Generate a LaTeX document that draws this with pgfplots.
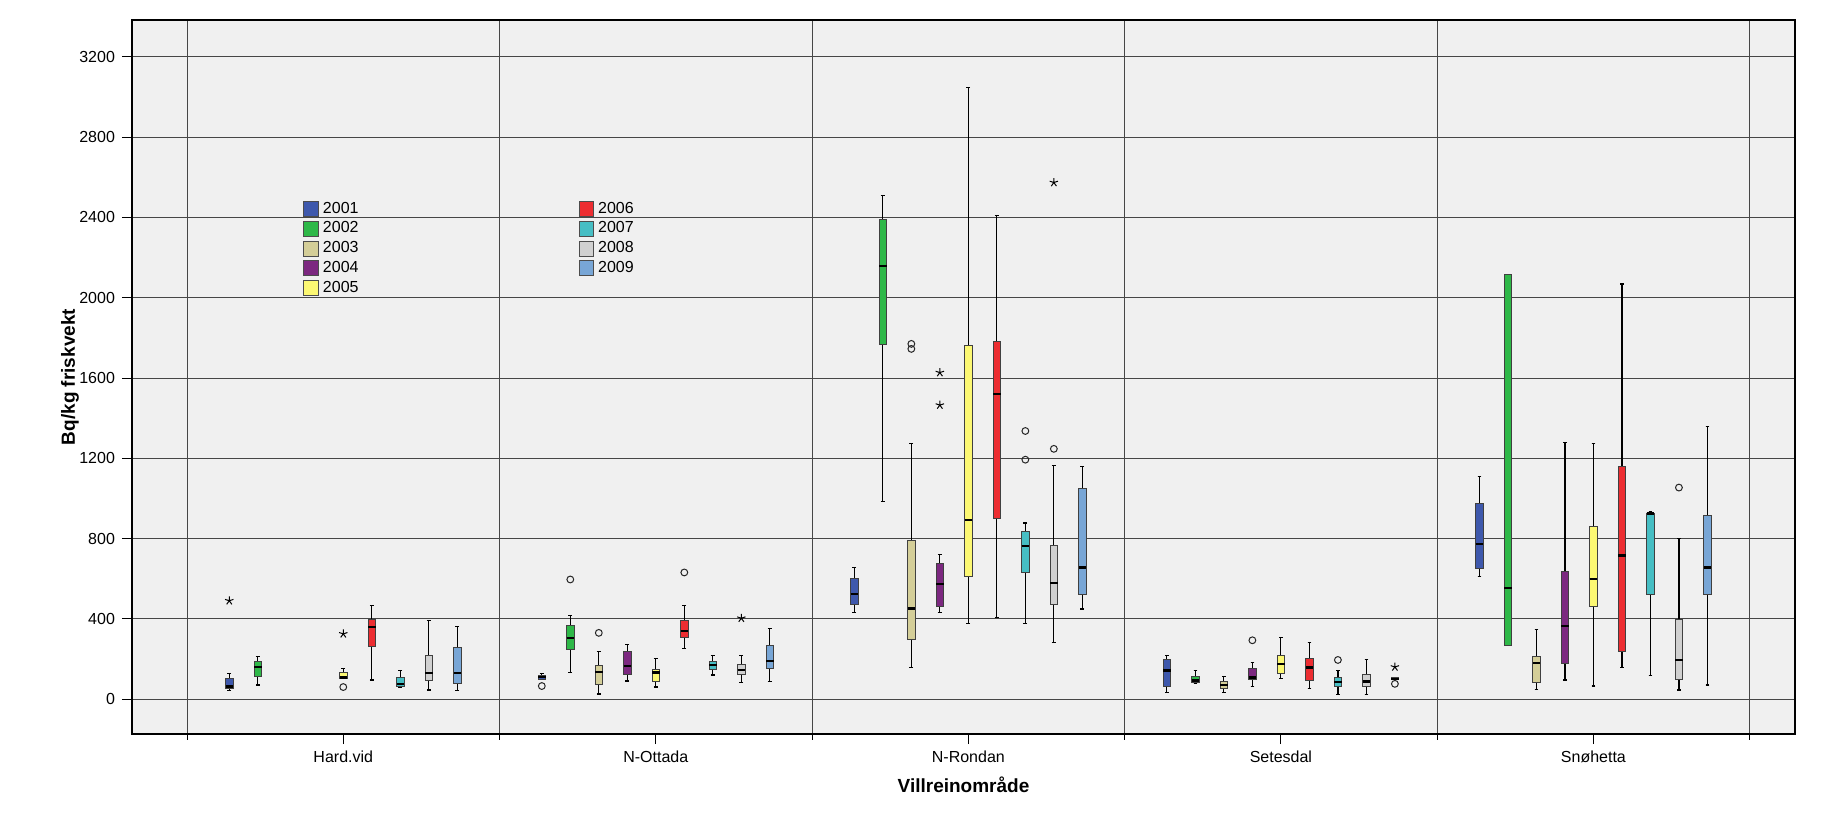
\documentclass[border=0pt]{standalone}
\usepackage{fontspec}
\setmainfont{Liberation Sans}
\usepackage{pgfplots}
\pgfplotsset{compat=1.18}
\usepgfplotslibrary{statistics}

\definecolor{c2001}{RGB}{62,88,172}
\definecolor{c2002}{RGB}{46,184,72}
\definecolor{c2003}{RGB}{212,206,152}
\definecolor{c2004}{RGB}{124,40,128}
\definecolor{c2005}{RGB}{252,248,115}
\definecolor{c2006}{RGB}{236,45,49}
\definecolor{c2007}{RGB}{70,190,196}
\definecolor{c2008}{RGB}{208,208,208}
\definecolor{c2009}{RGB}{120,166,214}
\definecolor{bg}{RGB}{240,240,240}
\definecolor{gridc}{RGB}{70,70,70}

% one box: fill colour as argument
\pgfplotsset{
  bx/.style={forget plot, draw=black!75, line width=0.5pt, fill=#1},
}

\begin{document}
\begin{tikzpicture}
\begin{axis}[
  scale only axis, width=831.5pt, height=357pt,
  xmin=0.324, xmax=5.645, ymin=-174, ymax=3384,
  axis background/.style={fill=bg},
  axis line style={black, line width=0.6pt},
  xtick={1,2,3,4,5},
  xticklabels={Hard.vid,N-Ottada,N-Rondan,Setesdal,Snøhetta},
  minor xtick={0.5,1.5,2.5,3.5,4.5,5.5},
  ytick={0,400,800,1200,1600,2000,2400,2800,3200},
  ymajorgrids, xminorgrids,
  major grid style={gridc, line width=0.5pt},
  minor grid style={gridc, line width=0.5pt},
  tick pos=left, tick align=outside,
  major tick length=5pt,
  tick style={black, line width=0.5pt},
  tick label style={font=\fontsize{8}{9}\selectfont},
  /pgf/number format/1000 sep={},
  /pgf/number format/assume math mode=true,
  xlabel={Villreinområde},
  xlabel style={font=\bfseries\fontsize{9.5}{11}\selectfont,
    at={(axis description cs:0.5,-0.0714)}, anchor=center},
  ylabel={Bq/kg friskvekt},
  ylabel style={font=\bfseries\fontsize{9.5}{11}\selectfont,
    at={(axis description cs:-0.0373,0.5)}, anchor=center},
  boxplot/draw direction=y,
  boxplot/box extend=0.024,
  boxplot/whisker extend=0.012,
  boxplot/every median/.style={black, line width=1.2pt},
  boxplot/every whisker/.style={black, line width=0.6pt},
  legend columns=2,
  legend image code/.code={\draw[#1] (0pt,-3.7pt) rectangle (7.4pt,3.7pt);},
  legend style={at={(axis description cs:0.0992,0.757)}, anchor=north west,
    draw=none, fill=none, font=\fontsize{8}{9}\selectfont,
    row sep=-1.2pt,
    /tikz/column 2/.style={column sep=108pt}},
  legend cell align=left,
]

% legend (row-major order so that columns read 2001-2005 and 2006-2009)
\addlegendimage{fill=c2001, draw=black!70}\addlegendentry{2001}
\addlegendimage{fill=c2006, draw=black!70}\addlegendentry{2006}
\addlegendimage{fill=c2002, draw=black!70}\addlegendentry{2002}
\addlegendimage{fill=c2007, draw=black!70}\addlegendentry{2007}
\addlegendimage{fill=c2003, draw=black!70}\addlegendentry{2003}
\addlegendimage{fill=c2008, draw=black!70}\addlegendentry{2008}
\addlegendimage{fill=c2004, draw=black!70}\addlegendentry{2004}
\addlegendimage{fill=c2009, draw=black!70}\addlegendentry{2009}
\addlegendimage{fill=c2005, draw=black!70}\addlegendentry{2005}

% ---- Hard.vid
\addplot[bx=c2001, boxplot prepared={draw position=0.6352, lower whisker=42, lower quartile=55, median=62, upper quartile=101, upper whisker=129}] coordinates {};
\addplot[bx=c2002, boxplot prepared={draw position=0.7264, lower whisker=70, lower quartile=115, median=161, upper quartile=188, upper whisker=214}] coordinates {};
\addplot[bx=c2005, boxplot prepared={draw position=1.0, lower whisker=104, lower quartile=104, median=108, upper quartile=133, upper whisker=151}] coordinates {};
\addplot[bx=c2006, boxplot prepared={draw position=1.0912, lower whisker=95, lower quartile=262, median=360, upper quartile=397, upper whisker=465}] coordinates {};
\addplot[bx=c2007, boxplot prepared={draw position=1.1824, lower whisker=56, lower quartile=63, median=75, upper quartile=108, upper whisker=144}] coordinates {};
\addplot[bx=c2008, boxplot prepared={draw position=1.2736, lower whisker=45, lower quartile=95, median=131, upper quartile=219, upper whisker=390}] coordinates {};
\addplot[bx=c2009, boxplot prepared={draw position=1.3648, lower whisker=42, lower quartile=78, median=129, upper quartile=259, upper whisker=362}] coordinates {};

% ---- N-Ottada
\addplot[bx=c2001, boxplot prepared={draw position=1.6352, lower whisker=98, lower quartile=98, median=111, upper quartile=120, upper whisker=126}] coordinates {};
\addplot[bx=c2002, boxplot prepared={draw position=1.7264, lower whisker=134, lower quartile=249, median=305, upper quartile=367, upper whisker=418}] coordinates {};
\addplot[bx=c2003, boxplot prepared={draw position=1.8176, lower whisker=25, lower quartile=73, median=136, upper quartile=169, upper whisker=236}] coordinates {};
\addplot[bx=c2004, boxplot prepared={draw position=1.9088, lower whisker=90, lower quartile=123, median=166, upper quartile=237, upper whisker=274}] coordinates {};
\addplot[bx=c2005, boxplot prepared={draw position=2.0, lower whisker=60, lower quartile=86, median=133, upper quartile=146, upper whisker=201}] coordinates {};
\addplot[bx=c2006, boxplot prepared={draw position=2.0912, lower whisker=252, lower quartile=305, median=339, upper quartile=390, upper whisker=468}] coordinates {};
\addplot[bx=c2007, boxplot prepared={draw position=2.1824, lower whisker=120, lower quartile=146, median=169, upper quartile=189, upper whisker=216}] coordinates {};
\addplot[bx=c2008, boxplot prepared={draw position=2.2736, lower whisker=81, lower quartile=123, median=146, upper quartile=173, upper whisker=216}] coordinates {};
\addplot[bx=c2009, boxplot prepared={draw position=2.3648, lower whisker=88, lower quartile=151, median=191, upper quartile=267, upper whisker=350}] coordinates {};

% ---- N-Rondan
\addplot[bx=c2001, boxplot prepared={draw position=2.6352, lower whisker=430, lower quartile=469, median=525, upper quartile=599, upper whisker=655}] coordinates {};
\addplot[bx=c2002, boxplot prepared={draw position=2.7264, lower whisker=985, lower quartile=1766, median=2159, upper quartile=2392, upper whisker=2509}] coordinates {};
\addplot[bx=c2003, boxplot prepared={draw position=2.8176, lower whisker=158, lower quartile=296, median=452, upper quartile=789, upper whisker=1275}] coordinates {};
\addplot[bx=c2004, boxplot prepared={draw position=2.9088, lower whisker=432, lower quartile=462, median=573, upper quartile=676, upper whisker=722}] coordinates {};
\addplot[bx=c2005, boxplot prepared={draw position=3.0, lower whisker=378, lower quartile=612, median=892, upper quartile=1761, upper whisker=3049}] coordinates {};
\addplot[bx=c2006, boxplot prepared={draw position=3.0912, lower whisker=408, lower quartile=899, median=1519, upper quartile=1781, upper whisker=2410}] coordinates {};
\addplot[bx=c2007, boxplot prepared={draw position=3.1824, lower whisker=378, lower quartile=631, median=763, upper quartile=834, upper whisker=877}] coordinates {};
\addplot[bx=c2008, boxplot prepared={draw position=3.2736, lower whisker=283, lower quartile=471, median=577, upper quartile=765, upper whisker=1163}] coordinates {};
\addplot[bx=c2009, boxplot prepared={draw position=3.3648, lower whisker=449, lower quartile=519, median=655, upper quartile=1048, upper whisker=1160}] coordinates {};

% ---- Setesdal
\addplot[bx=c2001, boxplot prepared={draw position=3.6352, lower whisker=31, lower quartile=61, median=142, upper quartile=198, upper whisker=217}] coordinates {};
\addplot[bx=c2002, boxplot prepared={draw position=3.7264, lower whisker=76, lower quartile=83, median=93, upper quartile=114, upper whisker=142}] coordinates {};
\addplot[bx=c2003, boxplot prepared={draw position=3.8176, lower whisker=31, lower quartile=51, median=69, upper quartile=86, upper whisker=114}] coordinates {};
\addplot[bx=c2004, boxplot prepared={draw position=3.9088, lower whisker=63, lower quartile=96, median=107, upper quartile=150, upper whisker=182}] coordinates {};
\addplot[bx=c2005, boxplot prepared={draw position=4.0, lower whisker=102, lower quartile=127, median=174, upper quartile=217, upper whisker=307}] coordinates {};
\addplot[bx=c2006, boxplot prepared={draw position=4.0912, lower whisker=51, lower quartile=91, median=157, upper quartile=202, upper whisker=281}] coordinates {};
\addplot[bx=c2007, boxplot prepared={draw position=4.1824, lower whisker=21, lower quartile=63, median=84, upper quartile=109, upper whisker=142}] coordinates {};
\addplot[bx=c2008, boxplot prepared={draw position=4.2736, lower whisker=21, lower quartile=63, median=88, upper quartile=124, upper whisker=197}] coordinates {};
\addplot[bx=c2009, boxplot prepared={draw position=4.3648, lower whisker=96, lower quartile=96, median=101, upper quartile=106, upper whisker=106}] coordinates {};

% ---- Snøhetta
\addplot[bx=c2001, boxplot prepared={draw position=4.6352, lower whisker=612, lower quartile=653, median=773, upper quartile=973, upper whisker=1108}] coordinates {};
\addplot[bx=c2002, boxplot prepared={draw position=4.7264, lower whisker=269, lower quartile=269, median=554, upper quartile=2114, upper whisker=2114}] coordinates {};
\addplot[bx=c2003, boxplot prepared={draw position=4.8176, lower whisker=48, lower quartile=85, median=179, upper quartile=211, upper whisker=347}] coordinates {};
\addplot[bx=c2004, boxplot prepared={draw position=4.9088, lower whisker=95, lower quartile=179, median=363, upper quartile=635, upper whisker=1277}] coordinates {};
\addplot[bx=c2005, boxplot prepared={draw position=5.0, lower whisker=65, lower quartile=463, median=599, upper quartile=862, upper whisker=1275}] coordinates {};
\addplot[bx=c2006, boxplot prepared={draw position=5.0912, lower whisker=159, lower quartile=237, median=715, upper quartile=1161, upper whisker=2068}] coordinates {};
\addplot[bx=c2007, boxplot prepared={draw position=5.1824, lower whisker=116, lower quartile=521, median=925, upper quartile=925, upper whisker=935}] coordinates {};
\addplot[bx=c2008, boxplot prepared={draw position=5.2736, lower whisker=45, lower quartile=96, median=194, upper quartile=398, upper whisker=802}] coordinates {};
\addplot[bx=c2009, boxplot prepared={draw position=5.3648, lower whisker=70, lower quartile=521, median=655, upper quartile=915, upper whisker=1358}] coordinates {};

% outliers (circles)
\addplot[forget plot, only marks, mark=o, mark size=1.7pt, mark options={black!85, line width=0.5pt}] coordinates {
  (1.0,60) (1.6352,65) (1.7264,596) (1.8176,330) (2.0912,631)
  (2.8176,1745) (2.8176,1770) (3.1824,1193) (3.1824,1336) (3.2736,1247)
  (3.9088,293) (4.1824,195) (4.3648,76) (5.2736,1054)
};
% extreme values (stars)
\addplot[forget plot, only marks, mark=star, mark size=2.2pt, mark options={black, line width=0.5pt}] coordinates {
  (0.6352,490) (1.0,325) (2.2736,403) (2.9088,1465) (2.9088,1627) (3.2736,2574) (4.3648,160)
};
\end{axis}
\path ([shift={(-66pt,-45.5pt)}]current axis.south west) rectangle ([shift={(16.5pt,10pt)}]current axis.north east);
\end{tikzpicture}
\end{document}
